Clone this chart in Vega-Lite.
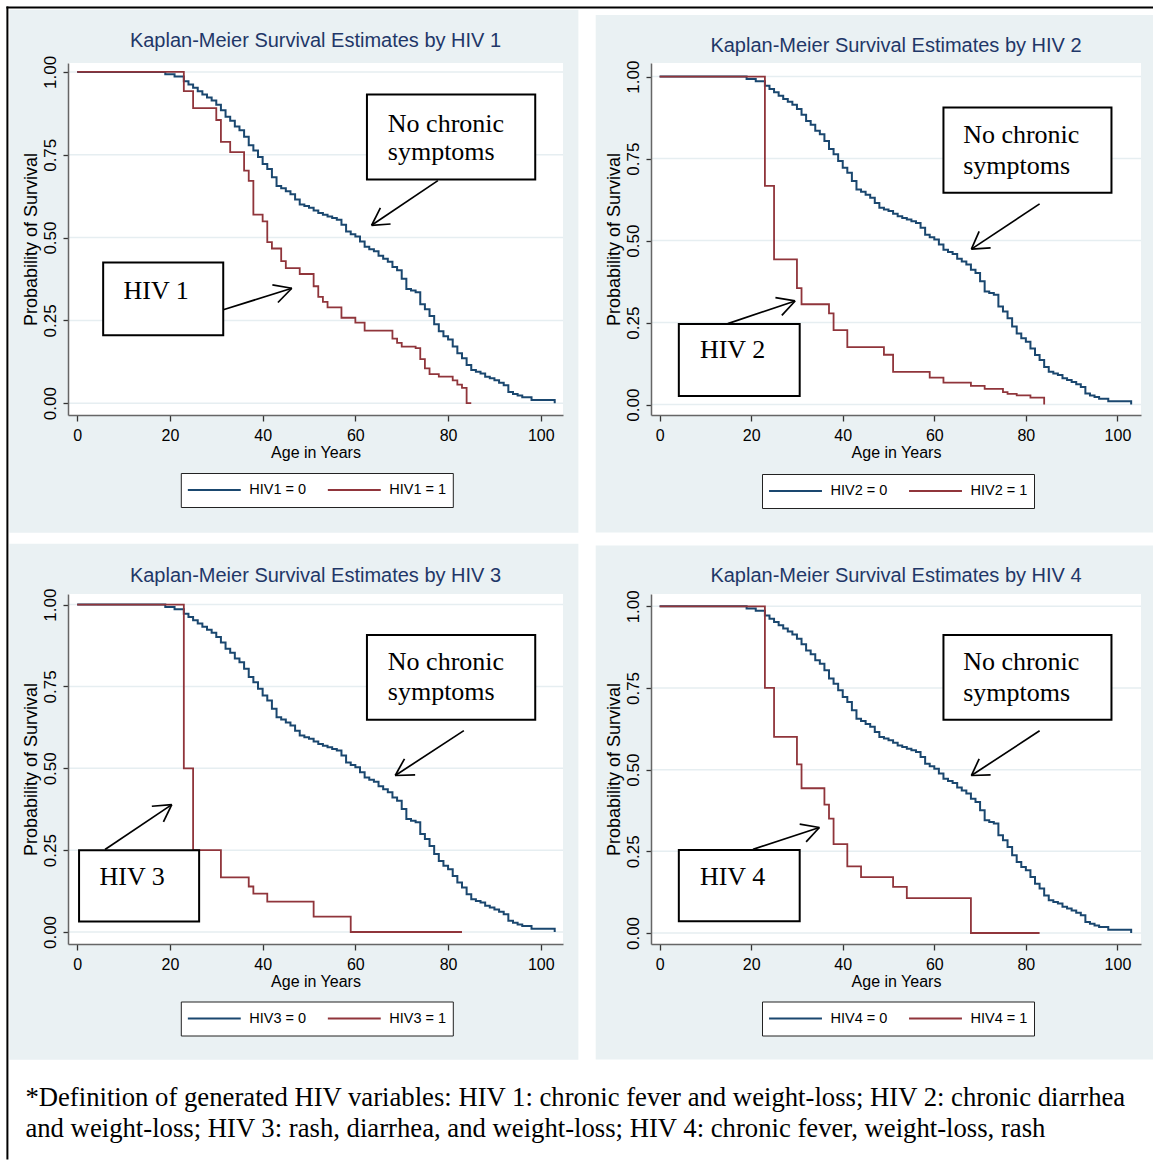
{
  "$schema": "https://vega.github.io/schema/vega-lite/v6.json",
  "background": "white",
  "padding": {"left": 5, "top": 5, "right": 0, "bottom": 0},
  "autosize": {"type": "pad"},
  "title": {
    "text": ["*Definition of generated HIV variables: HIV 1: chronic fever and weight-loss; HIV 2: chronic diarrhea", "and weight-loss; HIV 3: rash, diarrhea, and weight-loss; HIV 4: chronic fever, weight-loss, rash"],
    "orient": "bottom", "anchor": "start", "frame": "bounds", "font": "Liberation Serif", "fontSize": 26.7, "fontWeight": "normal", "color": "#000000", "baseline": "alphabetic", "lineHeight": 31, "offset": -54, "dx": 20
  },
  "datasets": {
    "blue": [{"x":0,"y":1},{"x":19,"y":0.993},{"x":21,"y":0.986},{"x":23,"y":0.972},{"x":24,"y":0.962},{"x":25,"y":0.952},{"x":26,"y":0.942},{"x":27,"y":0.932},{"x":28,"y":0.923},{"x":29,"y":0.914},{"x":30,"y":0.901},{"x":31,"y":0.884},{"x":32,"y":0.865},{"x":33,"y":0.853},{"x":34,"y":0.835},{"x":35,"y":0.824},{"x":36,"y":0.804},{"x":37,"y":0.779},{"x":38,"y":0.763},{"x":39,"y":0.743},{"x":40,"y":0.722},{"x":41,"y":0.707},{"x":42,"y":0.682},{"x":43,"y":0.656},{"x":44,"y":0.649},{"x":45,"y":0.64},{"x":46,"y":0.631},{"x":47,"y":0.615},{"x":48,"y":0.6},{"x":49,"y":0.595},{"x":50,"y":0.59},{"x":51,"y":0.582},{"x":52,"y":0.574},{"x":53,"y":0.569},{"x":54,"y":0.564},{"x":55,"y":0.559},{"x":56,"y":0.554},{"x":57,"y":0.539},{"x":58,"y":0.518},{"x":59,"y":0.51},{"x":60,"y":0.503},{"x":61,"y":0.488},{"x":62,"y":0.472},{"x":63,"y":0.465},{"x":64,"y":0.459},{"x":65,"y":0.445},{"x":66,"y":0.436},{"x":67,"y":0.427},{"x":68,"y":0.411},{"x":69,"y":0.401},{"x":70,"y":0.376},{"x":71,"y":0.345},{"x":72,"y":0.34},{"x":73,"y":0.335},{"x":74,"y":0.299},{"x":75,"y":0.284},{"x":76,"y":0.263},{"x":77,"y":0.238},{"x":78,"y":0.217},{"x":79,"y":0.202},{"x":80,"y":0.192},{"x":81,"y":0.171},{"x":82,"y":0.151},{"x":83,"y":0.136},{"x":84,"y":0.115},{"x":85,"y":0.1},{"x":86,"y":0.095},{"x":87,"y":0.09},{"x":88,"y":0.08},{"x":89,"y":0.075},{"x":90,"y":0.069},{"x":91,"y":0.062},{"x":92,"y":0.054},{"x":93,"y":0.034},{"x":94,"y":0.028},{"x":95,"y":0.023},{"x":96,"y":0.018},{"x":98,"y":0.01},{"x":103,"y":0}],
    "red": [
      {"panel":1,"x":0,"y":1},{"panel":1,"x":23,"y":0.942},{"panel":1,"x":25,"y":0.891},{"panel":1,"x":30,"y":0.855},{"panel":1,"x":31,"y":0.789},{"panel":1,"x":33,"y":0.758},{"panel":1,"x":36,"y":0.702},{"panel":1,"x":37,"y":0.671},{"panel":1,"x":38,"y":0.569},{"panel":1,"x":40,"y":0.549},{"panel":1,"x":41,"y":0.486},{"panel":1,"x":42,"y":0.467},{"panel":1,"x":44,"y":0.429},{"panel":1,"x":45,"y":0.408},{"panel":1,"x":48,"y":0.39},{"panel":1,"x":51,"y":0.353},{"panel":1,"x":52,"y":0.321},{"panel":1,"x":53,"y":0.306},{"panel":1,"x":54,"y":0.289},{"panel":1,"x":57,"y":0.258},{"panel":1,"x":60,"y":0.243},{"panel":1,"x":62,"y":0.219},{"panel":1,"x":68,"y":0.195},{"panel":1,"x":69,"y":0.182},{"panel":1,"x":70,"y":0.171},{"panel":1,"x":73,"y":0.166},{"panel":1,"x":74,"y":0.133},{"panel":1,"x":75,"y":0.105},{"panel":1,"x":76,"y":0.088},{"panel":1,"x":78,"y":0.08},{"panel":1,"x":81,"y":0.069},{"panel":1,"x":82,"y":0.056},{"panel":1,"x":83,"y":0.046},{"panel":1,"x":84,"y":0},{"panel":1,"x":85,"y":0},
      {"panel":2,"x":0,"y":1},{"panel":2,"x":23,"y":0.667},{"panel":2,"x":25,"y":0.443},{"panel":2,"x":30,"y":0.355},{"panel":2,"x":31,"y":0.306},{"panel":2,"x":37,"y":0.278},{"panel":2,"x":38,"y":0.227},{"panel":2,"x":41,"y":0.175},{"panel":2,"x":49,"y":0.152},{"panel":2,"x":51,"y":0.1},{"panel":2,"x":59,"y":0.082},{"panel":2,"x":62,"y":0.067},{"panel":2,"x":68,"y":0.057},{"panel":2,"x":71,"y":0.048},{"panel":2,"x":75,"y":0.038},{"panel":2,"x":76,"y":0.033},{"panel":2,"x":78,"y":0.028},{"panel":2,"x":81,"y":0.021},{"panel":2,"x":84,"y":0},
      {"panel":3,"x":0,"y":1},{"panel":3,"x":23,"y":0.5},{"panel":3,"x":25,"y":0.25},{"panel":3,"x":31,"y":0.167},{"panel":3,"x":37,"y":0.139},{"panel":3,"x":38,"y":0.117},{"panel":3,"x":41,"y":0.093},{"panel":3,"x":51,"y":0.047},{"panel":3,"x":59,"y":0},{"panel":3,"x":83,"y":0},
      {"panel":4,"x":0,"y":1},{"panel":4,"x":23,"y":0.75},{"panel":4,"x":25,"y":0.6},{"panel":4,"x":30,"y":0.516},{"panel":4,"x":31,"y":0.443},{"panel":4,"x":36,"y":0.393},{"panel":4,"x":37,"y":0.35},{"panel":4,"x":38,"y":0.272},{"panel":4,"x":41,"y":0.204},{"panel":4,"x":44,"y":0.171},{"panel":4,"x":51,"y":0.141},{"panel":4,"x":54,"y":0.107},{"panel":4,"x":68,"y":0},{"panel":4,"x":83,"y":0}
    ],
    "boxes": [
      {"panel":1,"x":62.5,"x2":98.8,"y":0.932,"y2":0.675},{"panel":1,"x":5.6,"x2":31.5,"y":0.425,"y2":0.205},
      {"panel":2,"x":62.0,"x2":98.7,"y":0.906,"y2":0.646},{"panel":2,"x":4.2,"x2":30.6,"y":0.246,"y2":0.026},
      {"panel":3,"x":62.5,"x2":98.8,"y":0.907,"y2":0.648},{"panel":3,"x":0.4,"x2":26.3,"y":0.25,"y2":0.032},
      {"panel":4,"x":62.0,"x2":98.7,"y":0.912,"y2":0.653},{"panel":4,"x":4.2,"x2":30.6,"y":0.254,"y2":0.036}
    ],
    "notes": [
      {"panel":1,"x":67.0,"y":0.819,"text":"No chronic"},{"panel":1,"x":67.0,"y":0.733,"text":"symptoms"},{"panel":1,"x":10.0,"y":0.314,"text":"HIV 1"},
      {"panel":2,"x":66.3,"y":0.798,"text":"No chronic"},{"panel":2,"x":66.3,"y":0.703,"text":"symptoms"},{"panel":2,"x":8.8,"y":0.141,"text":"HIV 2"},
      {"panel":3,"x":67.0,"y":0.799,"text":"No chronic"},{"panel":3,"x":67.0,"y":0.708,"text":"symptoms"},{"panel":3,"x":4.8,"y":0.144,"text":"HIV 3"},
      {"panel":4,"x":66.3,"y":0.804,"text":"No chronic"},{"panel":4,"x":66.3,"y":0.711,"text":"symptoms"},{"panel":4,"x":8.8,"y":0.147,"text":"HIV 4"}
    ],
    "arrows": [
      {"panel":1,"x":77.8,"y":0.672,"x2":63.5,"y2":0.537},{"panel":1,"x":63.5,"y":0.537,"x2":65.4,"y2":0.590},{"panel":1,"x":63.5,"y":0.537,"x2":67.6,"y2":0.541},
      {"panel":1,"x":31.5,"y":0.282,"x2":46.3,"y2":0.347},{"panel":1,"x":46.3,"y":0.347,"x2":42.1,"y2":0.357},{"panel":1,"x":46.3,"y":0.347,"x2":43.3,"y2":0.304},
      {"panel":2,"x":83.0,"y":0.612,"x2":68.1,"y2":0.474},{"panel":2,"x":68.1,"y":0.474,"x2":69.8,"y2":0.528},{"panel":2,"x":68.1,"y":0.474,"x2":72.3,"y2":0.478},
      {"panel":2,"x":14.9,"y":0.247,"x2":29.6,"y2":0.316},{"panel":2,"x":29.6,"y":0.316,"x2":25.3,"y2":0.326},{"panel":2,"x":29.6,"y":0.316,"x2":26.7,"y2":0.272},
      {"panel":3,"x":83.4,"y":0.615,"x2":68.6,"y2":0.478},{"panel":3,"x":68.6,"y":0.478,"x2":70.6,"y2":0.529},{"panel":3,"x":68.6,"y":0.478,"x2":72.9,"y2":0.480},
      {"panel":3,"x":6.0,"y":0.252,"x2":20.4,"y2":0.389},{"panel":3,"x":20.4,"y":0.389,"x2":16.1,"y2":0.384},{"panel":3,"x":20.4,"y":0.389,"x2":18.6,"y2":0.336},
      {"panel":4,"x":83.0,"y":0.619,"x2":68.1,"y2":0.482},{"panel":4,"x":68.1,"y":0.482,"x2":69.8,"y2":0.533},{"panel":4,"x":68.1,"y":0.482,"x2":72.3,"y2":0.484},
      {"panel":4,"x":20.4,"y":0.256,"x2":34.9,"y2":0.323},{"panel":4,"x":34.9,"y":0.323,"x2":30.6,"y2":0.333},{"panel":4,"x":34.9,"y":0.323,"x2":32.0,"y2":0.279}
    ],
    "grid": [{"y":0},{"y":0.25},{"y":0.5},{"y":0.75},{"y":1}]
  },
  "columns": 2,
  "spacing": {"row": 179, "column": 88},
  "bounds": "flush",
  "resolve": {"scale": {"color": "independent"}, "legend": {"color": "independent"}},
  "concat": [
    {
      "width": 495, "height": 352,
      "title": {"text": "Kaplan-Meier Survival Estimates by HIV 1", "offset": -45.7},
      "layer": [
        {"data": {"values": [{}]}, "mark": {"type": "rect", "color": "#eaf1f3", "clip": false}, "encoding": {"x": {"datum": -14.625, "type": "quantitative"}, "x2": {"datum": 108.11}, "y": {"datum": 1.188, "type": "quantitative"}, "y2": {"datum": -0.391}}},
        {"data": {"values": [{}]}, "mark": {"type": "rule", "color": "#000000", "strokeWidth": 2, "clip": false}, "encoding": {"x": {"datum": -15.272, "type": "quantitative"}, "x2": {"datum": 232.35}, "y": {"datum": 1.1942, "type": "quantitative"}}},
        {"data": {"values": [{}]}, "mark": {"type": "rule", "color": "#000000", "strokeWidth": 2, "clip": false}, "encoding": {"x": {"datum": -15.057, "type": "quantitative"}, "y": {"datum": 1.1972, "type": "quantitative"}, "y2": {"datum": -2.283}}},
        {"data": {"values": [{}]}, "mark": {"type": "rect", "color": "#ffffff"}, "encoding": {"x": {"datum": -1.985, "type": "quantitative"}, "x2": {"datum": 104.79}, "y": {"datum": -0.0356, "type": "quantitative"}, "y2": {"datum": 1.027}}},
        {"data": {"name": "grid"}, "mark": {"type": "rule", "color": "#e6eef1", "strokeWidth": 1.5}, "encoding": {"y": {"field": "y", "type": "quantitative"}}},
        {"data": {"name": "blue"}, "mark": {"type": "line", "interpolate": "step-after", "strokeWidth": 2},
         "encoding": {
           "x": {"field": "x", "type": "quantitative", "scale": {"domain": [-1.985, 104.79], "nice": false, "zero": false}, "axis": {"title": "Age in Years", "values": [0,20,40,60,80,100], "zindex": 1}},
           "y": {"field": "y", "type": "quantitative", "scale": {"domain": [-0.0356, 1.027], "nice": false, "zero": false}, "axis": {"title": "Probability of Survival", "values": [0,0.25,0.5,0.75,1], "format": ".2f", "zindex": 1}},
           "color": {"datum": "0", "type": "nominal", "scale": {"domain": ["0","1"], "range": ["#1a476f","#90353b"]}, "legend": {"orient": "none", "legendX": 112.8, "legendY": 410, "labelExpr": "'HIV1 = ' + datum.label"}}}},
        {"data": {"name": "red"}, "transform": [{"filter": "datum.panel == 1"}], "mark": {"type": "line", "interpolate": "step-after", "strokeWidth": 1.8},
         "encoding": {"x": {"field": "x", "type": "quantitative"}, "y": {"field": "y", "type": "quantitative"}, "color": {"datum": "1", "type": "nominal"}}},
        {"data": {"name": "boxes"}, "transform": [{"filter": "datum.panel == 1"}], "mark": {"type": "rect", "fill": "#ffffff", "stroke": "#000000", "strokeWidth": 2},
         "encoding": {"x": {"field": "x", "type": "quantitative"}, "x2": {"field": "x2"}, "y": {"field": "y", "type": "quantitative"}, "y2": {"field": "y2"}}},
        {"data": {"name": "notes"}, "transform": [{"filter": "datum.panel == 1"}], "mark": {"type": "text", "font": "Liberation Serif", "fontSize": 26, "align": "left", "baseline": "alphabetic", "color": "#000000"},
         "encoding": {"x": {"field": "x", "type": "quantitative"}, "y": {"field": "y", "type": "quantitative"}, "text": {"field": "text"}}},
        {"data": {"name": "arrows"}, "transform": [{"filter": "datum.panel == 1"}], "mark": {"type": "rule", "color": "#000000", "strokeWidth": 1.7},
         "encoding": {"x": {"field": "x", "type": "quantitative"}, "x2": {"field": "x2"}, "y": {"field": "y", "type": "quantitative"}, "y2": {"field": "y2"}}}
      ]
    },
    {
      "width": 490, "height": 352,
      "title": {"text": "Kaplan-Meier Survival Estimates by HIV 2", "offset": -41.3},
      "layer": [
        {"data": {"values": [{}]}, "mark": {"type": "rect", "color": "#eaf1f3", "clip": false}, "encoding": {"x": {"datum": -13.96, "type": "quantitative"}, "x2": {"datum": 108.8}, "y": {"datum": 1.1875, "type": "quantitative"}, "y2": {"datum": -0.390}}},
        {"data": {"values": [{}]}, "mark": {"type": "rect", "color": "#ffffff"}, "encoding": {"x": {"datum": -1.879, "type": "quantitative"}, "x2": {"datum": 105.15}, "y": {"datum": -0.0317, "type": "quantitative"}, "y2": {"datum": 1.0415}}},
        {"data": {"name": "grid"}, "mark": {"type": "rule", "color": "#e6eef1", "strokeWidth": 1.5}, "encoding": {"y": {"field": "y", "type": "quantitative"}}},
        {"data": {"name": "blue"}, "mark": {"type": "line", "interpolate": "step-after", "strokeWidth": 2},
         "encoding": {
           "x": {"field": "x", "type": "quantitative", "scale": {"domain": [-1.879, 105.15], "nice": false, "zero": false}, "axis": {"title": "Age in Years", "values": [0,20,40,60,80,100], "zindex": 1}},
           "y": {"field": "y", "type": "quantitative", "scale": {"domain": [-0.0317, 1.0415], "nice": false, "zero": false}, "axis": {"title": "Probability of Survival", "values": [0,0.25,0.5,0.75,1], "format": ".2f", "zindex": 1}},
           "color": {"datum": "0", "type": "nominal", "scale": {"domain": ["0","1"], "range": ["#1a476f","#90353b"]}, "legend": {"orient": "none", "legendX": 111, "legendY": 411, "labelExpr": "'HIV2 = ' + datum.label"}}}},
        {"data": {"name": "red"}, "transform": [{"filter": "datum.panel == 2"}], "mark": {"type": "line", "interpolate": "step-after", "strokeWidth": 1.8},
         "encoding": {"x": {"field": "x", "type": "quantitative"}, "y": {"field": "y", "type": "quantitative"}, "color": {"datum": "1", "type": "nominal"}}},
        {"data": {"name": "boxes"}, "transform": [{"filter": "datum.panel == 2"}], "mark": {"type": "rect", "fill": "#ffffff", "stroke": "#000000", "strokeWidth": 2},
         "encoding": {"x": {"field": "x", "type": "quantitative"}, "x2": {"field": "x2"}, "y": {"field": "y", "type": "quantitative"}, "y2": {"field": "y2"}}},
        {"data": {"name": "notes"}, "transform": [{"filter": "datum.panel == 2"}], "mark": {"type": "text", "font": "Liberation Serif", "fontSize": 26, "align": "left", "baseline": "alphabetic", "color": "#000000"},
         "encoding": {"x": {"field": "x", "type": "quantitative"}, "y": {"field": "y", "type": "quantitative"}, "text": {"field": "text"}}},
        {"data": {"name": "arrows"}, "transform": [{"filter": "datum.panel == 2"}], "mark": {"type": "rule", "color": "#000000", "strokeWidth": 1.7},
         "encoding": {"x": {"field": "x", "type": "quantitative"}, "x2": {"field": "x2"}, "y": {"field": "y", "type": "quantitative"}, "y2": {"field": "y2"}}}
      ]
    },
    {
      "width": 495, "height": 350,
      "title": {"text": "Kaplan-Meier Survival Estimates by HIV 3", "offset": -41.8},
      "layer": [
        {"data": {"values": [{}]}, "mark": {"type": "rect", "color": "#eaf1f3", "clip": false}, "encoding": {"x": {"datum": -14.625, "type": "quantitative"}, "x2": {"datum": 108.11}, "y": {"datum": 1.186, "type": "quantitative"}, "y2": {"datum": -0.390}}},
        {"data": {"values": [{}]}, "mark": {"type": "rect", "color": "#ffffff"}, "encoding": {"x": {"datum": -1.985, "type": "quantitative"}, "x2": {"datum": 104.79}, "y": {"datum": -0.0367, "type": "quantitative"}, "y2": {"datum": 1.0324}}},
        {"data": {"name": "grid"}, "mark": {"type": "rule", "color": "#e6eef1", "strokeWidth": 1.5}, "encoding": {"y": {"field": "y", "type": "quantitative"}}},
        {"data": {"name": "blue"}, "mark": {"type": "line", "interpolate": "step-after", "strokeWidth": 2},
         "encoding": {
           "x": {"field": "x", "type": "quantitative", "scale": {"domain": [-1.985, 104.79], "nice": false, "zero": false}, "axis": {"title": "Age in Years", "values": [0,20,40,60,80,100], "zindex": 1}},
           "y": {"field": "y", "type": "quantitative", "scale": {"domain": [-0.0367, 1.0324], "nice": false, "zero": false}, "axis": {"title": "Probability of Survival", "values": [0,0.25,0.5,0.75,1], "format": ".2f", "zindex": 1}},
           "color": {"datum": "0", "type": "nominal", "scale": {"domain": ["0","1"], "range": ["#1a476f","#90353b"]}, "legend": {"orient": "none", "legendX": 112.8, "legendY": 407.5, "labelExpr": "'HIV3 = ' + datum.label"}}}},
        {"data": {"name": "red"}, "transform": [{"filter": "datum.panel == 3"}], "mark": {"type": "line", "interpolate": "step-after", "strokeWidth": 1.8},
         "encoding": {"x": {"field": "x", "type": "quantitative"}, "y": {"field": "y", "type": "quantitative"}, "color": {"datum": "1", "type": "nominal"}}},
        {"data": {"name": "boxes"}, "transform": [{"filter": "datum.panel == 3"}], "mark": {"type": "rect", "fill": "#ffffff", "stroke": "#000000", "strokeWidth": 2},
         "encoding": {"x": {"field": "x", "type": "quantitative"}, "x2": {"field": "x2"}, "y": {"field": "y", "type": "quantitative"}, "y2": {"field": "y2"}}},
        {"data": {"name": "notes"}, "transform": [{"filter": "datum.panel == 3"}], "mark": {"type": "text", "font": "Liberation Serif", "fontSize": 26, "align": "left", "baseline": "alphabetic", "color": "#000000"},
         "encoding": {"x": {"field": "x", "type": "quantitative"}, "y": {"field": "y", "type": "quantitative"}, "text": {"field": "text"}}},
        {"data": {"name": "arrows"}, "transform": [{"filter": "datum.panel == 3"}], "mark": {"type": "rule", "color": "#000000", "strokeWidth": 1.7},
         "encoding": {"x": {"field": "x", "type": "quantitative"}, "x2": {"field": "x2"}, "y": {"field": "y", "type": "quantitative"}, "y2": {"field": "y2"}}}
      ]
    },
    {
      "width": 490, "height": 350,
      "title": {"text": "Kaplan-Meier Survival Estimates by HIV 4", "offset": -40.8},
      "layer": [
        {"data": {"values": [{}]}, "mark": {"type": "rect", "color": "#eaf1f3", "clip": false}, "encoding": {"x": {"datum": -13.96, "type": "quantitative"}, "x2": {"datum": 108.8}, "y": {"datum": 1.186, "type": "quantitative"}, "y2": {"datum": -0.3875}}},
        {"data": {"values": [{}]}, "mark": {"type": "rect", "color": "#ffffff"}, "encoding": {"x": {"datum": -1.879, "type": "quantitative"}, "x2": {"datum": 105.15}, "y": {"datum": -0.0337, "type": "quantitative"}, "y2": {"datum": 1.0376}}},
        {"data": {"name": "grid"}, "mark": {"type": "rule", "color": "#e6eef1", "strokeWidth": 1.5}, "encoding": {"y": {"field": "y", "type": "quantitative"}}},
        {"data": {"name": "blue"}, "mark": {"type": "line", "interpolate": "step-after", "strokeWidth": 2},
         "encoding": {
           "x": {"field": "x", "type": "quantitative", "scale": {"domain": [-1.879, 105.15], "nice": false, "zero": false}, "axis": {"title": "Age in Years", "values": [0,20,40,60,80,100], "zindex": 1}},
           "y": {"field": "y", "type": "quantitative", "scale": {"domain": [-0.0337, 1.0376], "nice": false, "zero": false}, "axis": {"title": "Probability of Survival", "values": [0,0.25,0.5,0.75,1], "format": ".2f", "zindex": 1}},
           "color": {"datum": "0", "type": "nominal", "scale": {"domain": ["0","1"], "range": ["#1a476f","#90353b"]}, "legend": {"orient": "none", "legendX": 111, "legendY": 407.5, "labelExpr": "'HIV4 = ' + datum.label"}}}},
        {"data": {"name": "red"}, "transform": [{"filter": "datum.panel == 4"}], "mark": {"type": "line", "interpolate": "step-after", "strokeWidth": 1.8},
         "encoding": {"x": {"field": "x", "type": "quantitative"}, "y": {"field": "y", "type": "quantitative"}, "color": {"datum": "1", "type": "nominal"}}},
        {"data": {"name": "boxes"}, "transform": [{"filter": "datum.panel == 4"}], "mark": {"type": "rect", "fill": "#ffffff", "stroke": "#000000", "strokeWidth": 2},
         "encoding": {"x": {"field": "x", "type": "quantitative"}, "x2": {"field": "x2"}, "y": {"field": "y", "type": "quantitative"}, "y2": {"field": "y2"}}},
        {"data": {"name": "notes"}, "transform": [{"filter": "datum.panel == 4"}], "mark": {"type": "text", "font": "Liberation Serif", "fontSize": 26, "align": "left", "baseline": "alphabetic", "color": "#000000"},
         "encoding": {"x": {"field": "x", "type": "quantitative"}, "y": {"field": "y", "type": "quantitative"}, "text": {"field": "text"}}},
        {"data": {"name": "arrows"}, "transform": [{"filter": "datum.panel == 4"}], "mark": {"type": "rule", "color": "#000000", "strokeWidth": 1.7},
         "encoding": {"x": {"field": "x", "type": "quantitative"}, "x2": {"field": "x2"}, "y": {"field": "y", "type": "quantitative"}, "y2": {"field": "y2"}}}
      ]
    }
  ],
  "config": {
    "view": {"stroke": null},
    "axis": {"grid": false, "domainColor": "#666666", "domainWidth": 1.5, "tickColor": "#333333", "tickWidth": 1.3, "labelColor": "#000000", "titleColor": "#000000", "titleFontWeight": "normal", "labelOverlap": false, "labelFlush": false},
    "axisX": {"labelFont": "Liberation Sans", "labelFontSize": 16, "titleFont": "Liberation Sans", "titleFontSize": 16, "tickSize": 6, "labelPadding": 6, "titlePadding": 1},
    "axisY": {"labelFont": "Liberation Sans", "labelFontSize": 17, "titleFont": "Liberation Sans", "titleFontSize": 18, "tickSize": 5, "labelPadding": 8, "titlePadding": 1, "labelAngle": -90, "labelAlign": "center", "labelBaseline": "alphabetic"},
    "title": {"font": "Liberation Sans", "fontSize": 20, "fontWeight": "normal", "color": "#1f3768", "anchor": "middle", "frame": "group", "baseline": "alphabetic"},
    "legend": {"direction": "horizontal", "title": null, "symbolType": "stroke", "symbolSize": 2800, "symbolStrokeWidth": 1.8, "clipHeight": 22, "labelFont": "Liberation Sans", "labelFontSize": 14.5, "labelColor": "#000000", "labelOffset": 7.5, "columnPadding": 20, "padding": 6, "strokeColor": "#222222", "fillColor": "#ffffff"}
  }
}
